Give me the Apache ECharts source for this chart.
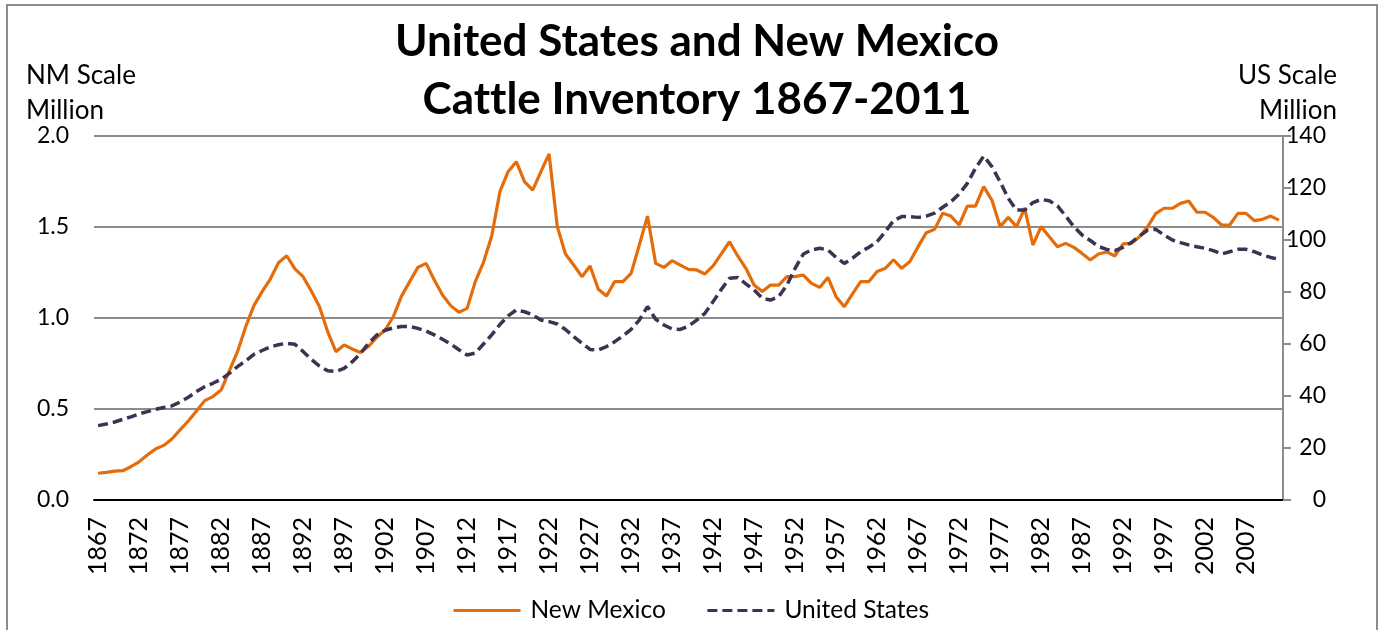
<!DOCTYPE html>
<html>
<head>
<meta charset="utf-8">
<script src="https://cdn.jsdelivr.net/npm/echarts@6/dist/echarts.min.js"></script>
<style>
  html, body { margin: 0; padding: 0; background: #fff; }
  #chart { width: 1381px; height: 630px; }
</style>
</head>
<body>
<div id="chart"></div>
<script>
// years 1867..2011
var years = [];
for (var y = 1867; y <= 2011; y++) years.push(String(y));

// New Mexico, million head (left scale)
var nmValues = [
  0.147, 0.152, 0.159, 0.161, 0.183, 0.21, 0.247, 0.28, 0.30, 0.335, 0.385, 0.434, 0.489, 0.546, 0.568, 0.604, 0.71, 0.815, 0.952, 1.068, 1.145, 1.214, 1.304, 1.342,
  1.27, 1.227, 1.148, 1.062, 0.925, 0.815, 0.852, 0.83, 0.81, 0.845, 0.894, 0.934, 1.007, 1.12, 1.2, 1.278, 1.30, 1.209, 1.126, 1.068, 1.031, 1.053, 1.2, 1.306, 1.45,
  1.694, 1.804, 1.859, 1.749, 1.703, 1.804, 1.901, 1.502, 1.352, 1.291, 1.227, 1.286, 1.158, 1.121, 1.20, 1.20, 1.245, 1.401, 1.56, 1.30, 1.278, 1.315, 1.291, 1.267, 1.264,
  1.242, 1.286, 1.352, 1.419, 1.341, 1.273, 1.181, 1.145, 1.181, 1.181, 1.227, 1.227, 1.236, 1.19, 1.168, 1.223, 1.117, 1.062, 1.132, 1.20, 1.20, 1.255, 1.273, 1.32,
  1.273, 1.31, 1.392, 1.469, 1.487, 1.575, 1.56, 1.511, 1.615, 1.615, 1.722, 1.648, 1.502, 1.553, 1.502, 1.603, 1.401, 1.502, 1.447, 1.392, 1.41, 1.388, 1.355, 1.319,
  1.352, 1.363, 1.341, 1.407, 1.41, 1.447, 1.502, 1.575, 1.603, 1.603, 1.63, 1.643, 1.581, 1.581, 1.553, 1.511, 1.511, 1.575, 1.575, 1.535, 1.542, 1.56, 1.538
];

// United States, million head (right scale)
var usValues = [
  28.6, 29.2, 30.0, 31.0, 32.0, 33.1, 34.0, 34.9, 35.6, 36.2, 37.7, 39.5, 41.7, 43.6, 44.9, 46.4, 48.7, 51.3, 53.5, 56.0, 57.5, 58.9, 59.7, 60.3,
  59.9, 57.1, 54.1, 51.5, 49.7, 49.4, 50.6, 53.2, 56.4, 60.3, 63.5, 65.3, 66.2, 66.7, 66.7, 66.0, 65.0, 63.5, 61.8, 60.0, 57.8, 55.8, 56.5, 60.0, 63.5,
  67.5, 70.8, 73.1, 72.4, 71.2, 69.2, 68.6, 67.7, 65.6, 62.8, 60.3, 57.9, 57.7, 59.0, 60.9, 63.1, 65.6, 69.2, 74.4, 69.5, 67.3, 65.8, 65.6, 66.9, 69.2,
  71.8, 76.3, 81.0, 85.3, 85.6, 83.1, 80.8, 77.6, 76.9, 78.2, 82.7, 89.1, 94.6, 96.2, 96.8, 96.2, 93.3, 91.0, 93.0, 95.5, 97.2, 99.4, 103.2, 107.4,
  109.0, 109.0, 108.7, 109.2, 110.3, 112.6, 114.7, 117.7, 121.8, 127.6, 132.3, 128.2, 122.4, 116.0, 111.5, 111.5, 114.4, 115.6, 115.1, 113.1, 109.2, 105.1, 101.9, 99.8,
  97.5, 96.4, 95.9, 97.2, 99.0, 101.5, 103.8, 104.1, 101.9, 100.0, 99.0, 98.1, 97.4, 96.8, 95.9, 94.6, 95.5, 96.4, 96.4, 95.5, 94.2, 93.3, 92.6
];

var FONT = 'Lato';

var chart = echarts.init(document.getElementById('chart'));
chart.setOption({
  backgroundColor: '#fff',
  animation: false,
  textStyle: { fontFamily: FONT, color: '#000' },
  title: {
    // zero-width non-joiner keeps Lato from using its "tt" ligature
    text: 'United States and New Mexico\nCat\u200Ctle Inventory 1867-2011',
    left: 692, top: 8,
    textAlign: 'center',
    textStyle: { fontFamily: FONT, fontSize: 44, fontWeight: 'bold', lineHeight: 58, color: '#000' }
  },
  graphic: [
    {
      type: 'rect', silent: true,
      shape: { x: 7, y: 5, width: 1370, height: 650 },
      style: { fill: 'none', stroke: '#8c8c8c', lineWidth: 2 }
    },
    {
      type: 'text', silent: true, left: 26, top: 58,
      style: { text: 'NM Scale\nMillion', fontFamily: FONT, fontSize: 26, lineHeight: 35, fill: '#000', textAlign: 'left' }
    },
    {
      type: 'text', silent: true, right: 44, top: 58,
      style: { text: 'US Scale\nMillion', fontFamily: FONT, fontSize: 26, lineHeight: 35, fill: '#000', textAlign: 'right' }
    }
  ],
  legend: {
    bottom: 2, left: 'center',
    itemWidth: 67, itemHeight: 14, itemGap: 40,
    itemStyle: { opacity: 0 },
    lineStyle: { width: 3.2 },
    textStyle: { fontFamily: FONT, fontSize: 24.5, color: '#000', padding: [0, 0, 0, 5] },
    data: ['New Mexico', 'United States']
  },
  grid: { left: 94, right: 98, top: 136, bottom: 130 },
  xAxis: {
    type: 'category',
    data: years,
    boundaryGap: true,
    axisLine: { lineStyle: { color: '#000', width: 2 } },
    axisTick: { show: false },
    axisLabel: { interval: 4, rotate: 90, fontFamily: FONT, fontSize: 25, color: '#000', margin: 17 }
  },
  yAxis: [
    {
      type: 'value', min: 0, max: 2, interval: 0.5,
      axisLine: { show: false }, axisTick: { show: false },
      splitLine: { lineStyle: { color: '#8c8c8c', width: 2 } },
      axisLabel: { fontFamily: FONT, fontSize: 23, color: '#000', margin: 25,
        formatter: function (v) { return v.toFixed(1); } }
    },
    {
      type: 'value', min: 0, max: 140, interval: 20,
      axisLine: { show: true, lineStyle: { color: '#8c8c8c', width: 2 } },
      axisTick: { show: true, length: 8, lineStyle: { color: '#8c8c8c', width: 2 } },
      splitLine: { show: false },
      axisLabel: { fontFamily: FONT, fontSize: 23, color: '#000', margin: 43, align: 'right' }
    }
  ],
  series: [
    {
      name: 'New Mexico', type: 'line', yAxisIndex: 0,
      data: nmValues, symbol: 'none',
      itemStyle: { color: '#E46C0A' },
      lineStyle: { color: '#E46C0A', width: 3.2 }
    },
    {
      name: 'United States', type: 'line', yAxisIndex: 1,
      data: usValues, symbol: 'none',
      itemStyle: { color: '#3F3151' },
      lineStyle: { color: '#3F3151', width: 3.5, type: [10, 5] }
    }
  ]
});
</script>
</body>
</html>
